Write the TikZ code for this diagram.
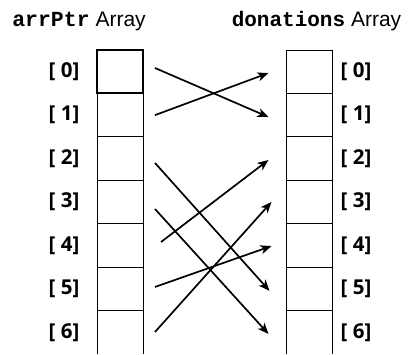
\documentclass[tikz,border=0pt]{standalone}
\usepackage{fontspec}
\setmainfont{Liberation Sans}
\newfontfamily\codefont{Liberation Mono}
\newfontfamily\labfont{Open Sans}
\usetikzlibrary{arrows.meta,calc}
\begin{document}
\begin{tikzpicture}[x=1pt,y=1pt,
  cell/.style={minimum width=46pt,minimum height=43.43pt,inner sep=0pt,outer sep=0pt},
  idx/.style={font=\labfont\bfseries\fontsize{20.5}{20}\selectfont,inner sep=0pt},
  ttl/.style={font=\fontsize{21}{22}\selectfont,inner sep=0pt,anchor=base},
  ptr/.style={line width=1.7pt,-{Stealth[length=11pt,width=9pt,inset=3pt]}}]
\useasboundingbox (0,0) rectangle (412,354);
% title
\node[ttl] (t1) at (79,327) {{\codefont\bfseries\fontsize{21.5}{20}\selectfont arrPtr} Array};
\node[ttl] (t2) at (316.5,327) {{\codefont\bfseries\fontsize{21}{20}\selectfont donations} Array};
% cells
\foreach \i in {0,...,6}{
  \pgfmathsetmacro\yy{282.3-43.43*\i}
  \node[cell] (L\i) at (120,\yy) {};
  \node[cell] (R\i) at (309.5,\yy) {};
  \node[idx] (l\i) at (64,\yy) {[ \i]};
  \node[idx] (r\i) at (356,\yy) {[ \i]};
}
\foreach \i in {1,...,5}{
  \draw[line width=0.9pt] (L\i.south west) rectangle (L\i.north east);
  \draw[line width=0.9pt] (R\i.south west) rectangle (R\i.north east);
}
\draw[line width=0.9pt] (R0.south west) rectangle (R0.north east);
\draw[line width=0.9pt] (L6.south west) -- (L6.north west) (L6.south east) -- (L6.north east);
\draw[line width=0.9pt] (R6.south west) -- (R6.north west) (R6.south east) -- (R6.north east);
\draw[line width=2pt] (L0.south west) rectangle (L0.north east);
% pointers
\draw[ptr] ($(L0.east)+(12,3.7)$) -- ($(R1.west)+(-18,-1.9)$);
\draw[ptr] ($(L1.east)+(12,0)$) -- ($(R0.west)+(-18,-1.3)$);
\draw[ptr] ($(L2.east)+(12,-4.4)$) -- ($(R5.west)+(-17,-2)$);
\draw[ptr] ($(L3.east)+(12,-7)$) -- ($(R6.west)+(-18,-1.7)$);
\draw[ptr] ($(L4.east)+(18,3.4)$) -- ($(R2.west)+(-18,-1.4)$);
\draw[ptr] ($(L5.east)+(12,1.9)$) -- ($(R4.west)+(-15,-0.6)$);
\draw[ptr] ($(L6.east)+(12,0.3)$) -- ($(R3.west)+(-15,0)$);
\end{tikzpicture}
\end{document}
